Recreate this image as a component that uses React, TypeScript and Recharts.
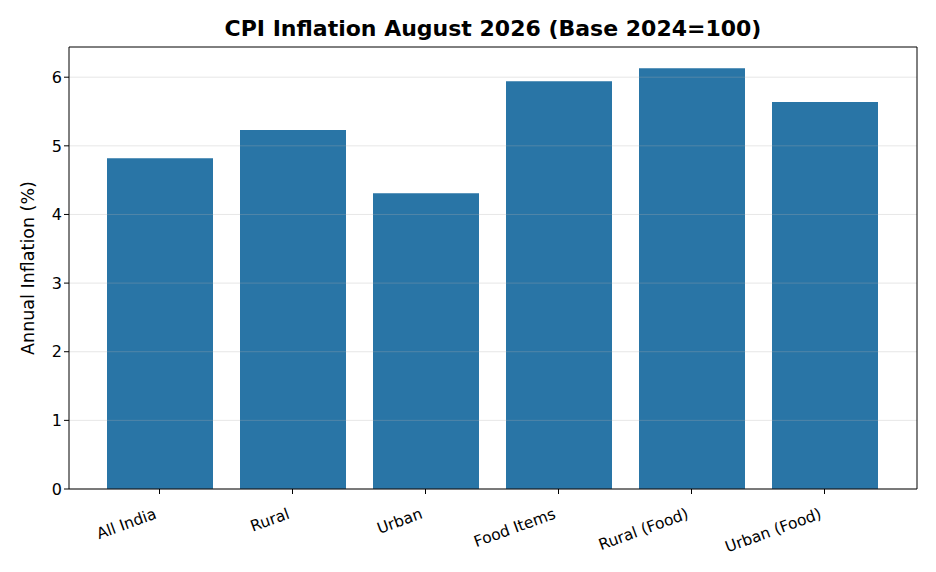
import React from 'react';
import { BarChart, Bar, XAxis, YAxis, ReferenceLine } from 'recharts';

const categories = ['All India', 'Rural', 'Urban', 'Food Items', 'Rural (Food)', 'Urban (Food)'];
const inflation = [4.82, 5.23, 4.31, 5.94, 6.13, 5.64];
const yTicks = [0, 1, 2, 3, 4, 5, 6];

const FONT = '"DejaVu Sans", sans-serif';

const data = categories.map((name, i) => ({ name, value: inflation[i] }));

const XTick = ({ x, y, payload }: any) => (
  <g transform={`translate(${x - 2},${y + 22}) rotate(-20)`}>
    <text textAnchor="end" fontSize={15.5} fontFamily={FONT} fill="#000">
      {payload.value}
    </text>
  </g>
);

export default function App() {
  return (
    <div style={{ position: 'absolute', left: 0, top: 0, width: 936, height: 572, background: '#fff' }}>
      <div
        style={{
          position: 'absolute',
          left: 69,
          width: 848,
          top: 16,
          textAlign: 'center',
          fontFamily: FONT,
          fontWeight: 'bold',
          fontSize: 22,
          lineHeight: '26px',
          color: '#000',
        }}
      >
        CPI Inflation August 2026 (Base 2024=100)
      </div>
      <BarChart
        width={936}
        height={572}
        data={data}
        margin={{ top: 46, right: 18, bottom: 23, left: 29 }}
      >
        {yTicks.map((t) => (
          <ReferenceLine key={t} y={t} stroke="#b0b0b0" strokeOpacity={0.3} strokeWidth={1} />
        ))}
        <Bar dataKey="value" fill="#2975a6" barSize={106} isAnimationActive={false} />
        <XAxis
          dataKey="name"
          padding={{ left: 24, right: 26 }}
          height={60}
          interval={0}
          tick={<XTick />}
          tickLine={{ stroke: '#000' }}
          tickSize={5}
          axisLine={{ stroke: '#000' }}
        />
        <XAxis
          xAxisId="top"
          orientation="top"
          type="number"
          domain={[0, 1]}
          ticks={[]}
          height={1}
          tickLine={false}
          axisLine={{ stroke: '#000' }}
        />
        <YAxis
          domain={[0, 6.44]}
          ticks={yTicks}
          width={40}
          tickSize={5}
          tick={{ fontSize: 16, fontFamily: FONT, fill: '#000' }}
          tickLine={{ stroke: '#000' }}
          axisLine={{ stroke: '#000' }}
          label={{
            value: 'Annual Inflation (%)',
            angle: -90,
            position: 'insideLeft',
            dx: -6,
            dy: 0,
            style: { fontSize: 17.5, fontFamily: FONT, fill: '#000', textAnchor: 'middle' },
          }}
        />
        <YAxis
          yAxisId="right"
          orientation="right"
          type="number"
          domain={[0, 1]}
          ticks={[]}
          width={1}
          tickLine={false}
          axisLine={{ stroke: '#000' }}
        />
      </BarChart>
    </div>
  );
}
